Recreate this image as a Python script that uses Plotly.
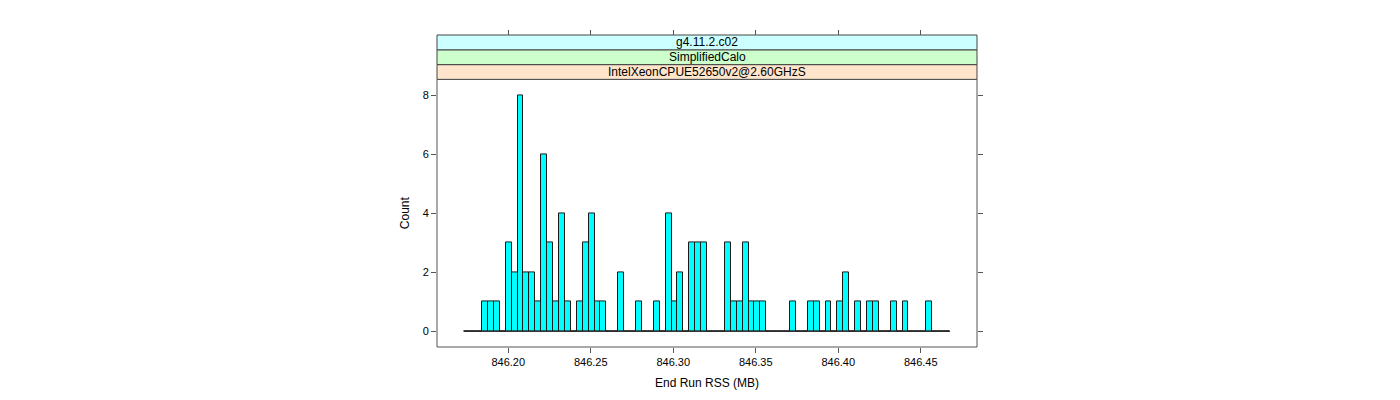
import plotly.graph_objects as go

# ---- data ----
strip_labels = ["IntelXeonCPUE52650v2@2.60GHzS", "SimplifiedCalo", "g4.11.2.c02"]
strip_colors = ["#ffe5cc", "#ccffcc", "#ccffff"]
break_lo = 846.1733
break_hi = 846.4677
counts = [0, 0, 0, 1, 1, 1, 0, 3, 2, 8, 2, 2, 1, 6, 3, 1, 4, 1, 0, 1, 3, 4, 1, 1,
          0, 0, 2, 0, 0, 1, 0, 0, 1, 0, 4, 1, 2, 0, 3, 3, 3, 0, 0, 0, 3, 1, 1, 3,
          1, 1, 1, 0, 0, 0, 0, 1, 0, 0, 1, 1, 0, 1, 0, 1, 2, 0, 1, 0, 1, 1, 0, 0,
          1, 0, 1, 0, 0, 0, 1, 0, 0, 0]
x_ticks = [846.20, 846.25, 846.30, 846.35, 846.40, 846.45]
x_ticktext = ["846.20", "846.25", "846.30", "846.35", "846.40", "846.45"]
y_ticks = [0, 2, 4, 6, 8]
x_title = "End Run RSS (MB)"
y_title = "Count"

n_bins = len(counts)
bw = (break_hi - break_lo) / n_bins
centers = [break_lo + bw * (i + 0.5) for i in range(n_bins)]

xr = [846.1568, 846.4841]
yr = [-0.53, 8.53]

OFF = 8  # page body margin
W, H = 1400, 400
# target page pixel positions
P_LEFT, P_RIGHT, P_TOP_STRIP, P_PANEL_TOP, P_BOTTOM = 437, 977, 34.5, 79, 347
ml = P_LEFT - OFF
mr = W - (P_RIGHT - OFF)
mt = P_TOP_STRIP - OFF
mb = H - (P_BOTTOM - OFF)
plot_h = H - mt - mb
plot_w = W - ml - mr
panel_h = P_BOTTOM - P_PANEL_TOP
ytop = panel_h / plot_h
strip_h = (plot_h - panel_h) / 3 / plot_h


def py(page_y):
    return (P_BOTTOM - page_y) / plot_h


def px(page_x):
    return (page_x - P_LEFT) / plot_w


FONT = "Liberation Sans, Arial, Helvetica, sans-serif"
AXC = "#555555"

fig = go.Figure()
fig.add_trace(go.Scatter(x=[break_lo, break_hi], y=[0, 0], mode="lines",
                         line=dict(color="#222222", width=1), hoverinfo="skip",
                         showlegend=False))
fig.add_trace(go.Bar(x=centers, y=counts, width=[bw] * n_bins,
                     marker=dict(color="#00ffff", line=dict(color="#1a1a1a", width=1)),
                     showlegend=False))
fig.add_trace(go.Scatter(x=[], y=[], xaxis="x2", yaxis="y2", showlegend=False,
                         hoverinfo="skip"))

shapes = [dict(type="rect", xref="paper", yref="paper", x0=0, x1=1, y0=0, y1=ytop,
               line=dict(color=AXC, width=1), fillcolor="rgba(0,0,0,0)", layer="above")]
annotations = []
for k, (lab, col) in enumerate(zip(strip_labels, strip_colors)):
    y0 = ytop + k * strip_h
    y1 = y0 + strip_h
    shapes.append(dict(type="rect", xref="paper", yref="paper", x0=0, x1=1, y0=y0, y1=y1,
                       line=dict(color="#444444", width=1), fillcolor=col, layer="below"))
    annotations.append(dict(text=lab, xref="paper", yref="paper", x=0.5, y=(y0 + y1) / 2,
                            showarrow=False, xanchor="center", yanchor="middle",
                            font=dict(family=FONT, size=12, color="black")))

annotations.append(dict(text=x_title, xref="paper", yref="paper", x=0.5, y=py(383),
                        showarrow=False, xanchor="center", yanchor="middle",
                        font=dict(family=FONT, size=12, color="black")))
annotations.append(dict(text=y_title, xref="paper", yref="paper", x=px(405),
                        y=py(213), textangle=-90,
                        showarrow=False, xanchor="center", yanchor="middle",
                        font=dict(family=FONT, size=12, color="black")))

tickfont = dict(family=FONT, size=11, color="black")
fig.update_layout(
    width=W, height=H,
    margin=dict(l=ml, r=mr, t=mt, b=mb, pad=0),
    paper_bgcolor="white", plot_bgcolor="white",
    bargap=0, showlegend=False,
    xaxis=dict(range=xr, tickvals=x_ticks, ticktext=x_ticktext, ticks="outside",
               ticklen=5, tickcolor=AXC, showgrid=False, zeroline=False, showline=False,
               tickfont=tickfont, anchor="y"),
    yaxis=dict(range=yr, domain=[0, ytop], tickvals=y_ticks, ticks="outside",
               ticklen=5, tickcolor=AXC, showgrid=False, zeroline=False, showline=False,
               tickfont=tickfont, anchor="x"),
    xaxis2=dict(range=xr, overlaying="x", side="top", anchor="free", position=1,
                tickvals=x_ticks, ticks="outside", ticklen=5, tickcolor=AXC,
                showticklabels=False, showgrid=False, zeroline=False, showline=False),
    yaxis2=dict(range=yr, overlaying="y", side="right", anchor="x", tickvals=y_ticks,
                ticks="outside", ticklen=5, tickcolor=AXC, showticklabels=False,
                showgrid=False, zeroline=False, showline=False),
    shapes=shapes, annotations=annotations,
)

fig.write_html("out.html")
